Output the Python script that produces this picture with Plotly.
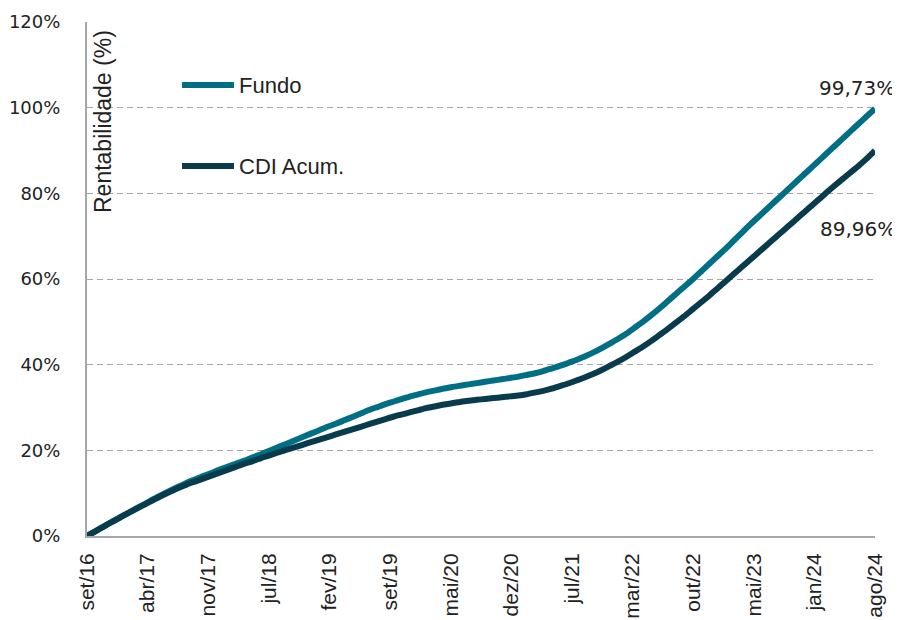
import plotly.graph_objects as go

# ---- data (monthly, set/16 .. ago/24) ----
months = list(range(96))
fundo = [0.0, 1.1, 2.2, 3.3, 4.4, 5.4, 6.5, 7.5, 8.6, 9.6,
         10.6, 11.5, 12.4, 13.2, 14.0, 14.7, 15.5, 16.2, 16.9, 17.6,
         18.4, 19.1, 19.9, 20.7, 21.5, 22.3, 23.1, 23.9, 24.7, 25.5,
         26.2, 27.0, 27.8, 28.6, 29.4, 30.1, 30.8, 31.4, 32.0, 32.6,
         33.1, 33.6, 34.0, 34.4, 34.8, 35.1, 35.4, 35.7, 36.0, 36.3,
         36.6, 36.9, 37.2, 37.6, 38.0, 38.5, 39.1, 39.7, 40.4, 41.1,
         41.9, 42.8, 43.8, 44.9, 46.0, 47.2, 48.6, 50.0, 51.5, 53.1,
         54.8, 56.5, 58.2, 59.9, 61.7, 63.5, 65.3, 67.1, 69.0, 70.9,
         72.8, 74.6, 76.4, 78.2, 80.0, 81.8, 83.6, 85.4, 87.2, 89.0,
         90.8, 92.6, 94.4, 96.2, 98.0, 99.73]
cdi = [0.0, 1.1, 2.2, 3.3, 4.3, 5.4, 6.4, 7.4, 8.4, 9.4,
       10.3, 11.2, 12.0, 12.7, 13.4, 14.1, 14.8, 15.5, 16.2, 16.9,
       17.5, 18.2, 18.8, 19.5, 20.1, 20.7, 21.3, 21.9, 22.5, 23.1,
       23.7, 24.3, 24.9, 25.5, 26.1, 26.7, 27.3, 27.9, 28.4, 28.9,
       29.4, 29.9, 30.3, 30.7, 31.0, 31.3, 31.6, 31.8, 32.0, 32.2,
       32.4, 32.6, 32.8, 33.1, 33.5, 33.9, 34.4, 35.0, 35.6, 36.3,
       37.0, 37.8, 38.7, 39.7, 40.7, 41.8, 43.0, 44.2, 45.5, 46.9,
       48.3, 49.8, 51.3, 52.9, 54.5, 56.1, 57.8, 59.5, 61.2, 62.9,
       64.6, 66.3, 68.0, 69.7, 71.4, 73.1, 74.8, 76.5, 78.2, 79.9,
       81.6, 83.2, 84.8, 86.4, 88.1, 89.96]
tick_labels = ["set/16", "abr/17", "nov/17", "jul/18", "fev/19", "set/19", "mai/20",
               "dez/20", "jul/21", "mar/22", "out/22", "mai/23", "jan/24", "ago/24"]
series_names = ["Fundo", "CDI Acum."]
end_labels = ["99,73%", "89,96%"]

TEAL = "#006F86"
DARK = "#083B4C"
GRID = "#A6A6A6"

n_int = len(tick_labels) - 1
tickvals = [i * (len(months) - 1) / n_int for i in range(len(tick_labels))]

# plot area on screen: x 87..875, y 22..536 (page has 8px body offset)
def px(x):
    return (x - 87) / 788

def py(y):
    return (536 - y) / 514

fig = go.Figure()
fig.add_trace(go.Scatter(x=months, y=fundo, mode="lines", name=series_names[0],
                         line=dict(color=TEAL, width=6, shape="spline", smoothing=0.5),
                         showlegend=False))
fig.add_trace(go.Scatter(x=months, y=cdi, mode="lines", name=series_names[1],
                         line=dict(color=DARK, width=6, shape="spline", smoothing=0.5),
                         showlegend=False))

# end value labels tied to last data points
fig.add_annotation(x=months[-1], y=fundo[-1], text=end_labels[0], showarrow=False,
                   xanchor="center", yanchor="middle",
                   xshift=-18, yshift=21, font=dict(family="DejaVu Sans", size=20, color="#222"))
fig.add_annotation(x=months[-1], y=cdi[-1], text=end_labels[1], showarrow=False,
                   xanchor="center", yanchor="middle",
                   xshift=-17, yshift=-78, font=dict(family="DejaVu Sans", size=20, color="#222"))

# y-axis title inside plot
fig.add_annotation(xref="paper", yref="paper", x=px(103), y=py(122),
                   xanchor="center", yanchor="middle",
                   text="Rentabilidade (%)", textangle=-90, showarrow=False,
                   font=dict(family="Liberation Sans", size=23, color="#222"))

# custom legend
leg_y = [85, 166]
for name, col, yy in zip(series_names, [TEAL, DARK], leg_y):
    fig.add_shape(type="line", xref="paper", yref="paper",
                  x0=px(182), x1=px(234), y0=py(yy), y1=py(yy),
                  line=dict(color=col, width=6))
    fig.add_annotation(xref="paper", yref="paper", x=px(237), y=py(yy),
                       xanchor="left", yanchor="middle", text=name, showarrow=False,
                       font=dict(family="Liberation Sans", size=22, color="#222"))

fig.update_layout(
    width=892, height=612,
    margin=dict(l=79, r=25, t=14, b=84, autoexpand=False),
    paper_bgcolor="white", plot_bgcolor="white",
    font=dict(family="Liberation Sans", color="#222"),
)
fig.update_xaxes(
    range=[0, months[-1]], tickmode="array", tickvals=tickvals, ticktext=tick_labels,
    tickangle=-90, tickfont=dict(family="Liberation Sans", size=21, color="#222"),
    showgrid=False, showline=True, linecolor=GRID, linewidth=2, zeroline=False,
    ticks="", ticklabelstandoff=7, automargin=False,
)
fig.update_yaxes(
    range=[0, 120], dtick=20, ticksuffix="%",
    tickfont=dict(family="DejaVu Sans", size=18, color="#222"),
    showgrid=True, gridcolor=GRID, gridwidth=1, griddash="6px,4px",
    showline=True, linecolor=GRID, linewidth=2, zeroline=False,
    ticks="", ticklabelstandoff=21, automargin=False,
)

fig.write_html("out.html")
